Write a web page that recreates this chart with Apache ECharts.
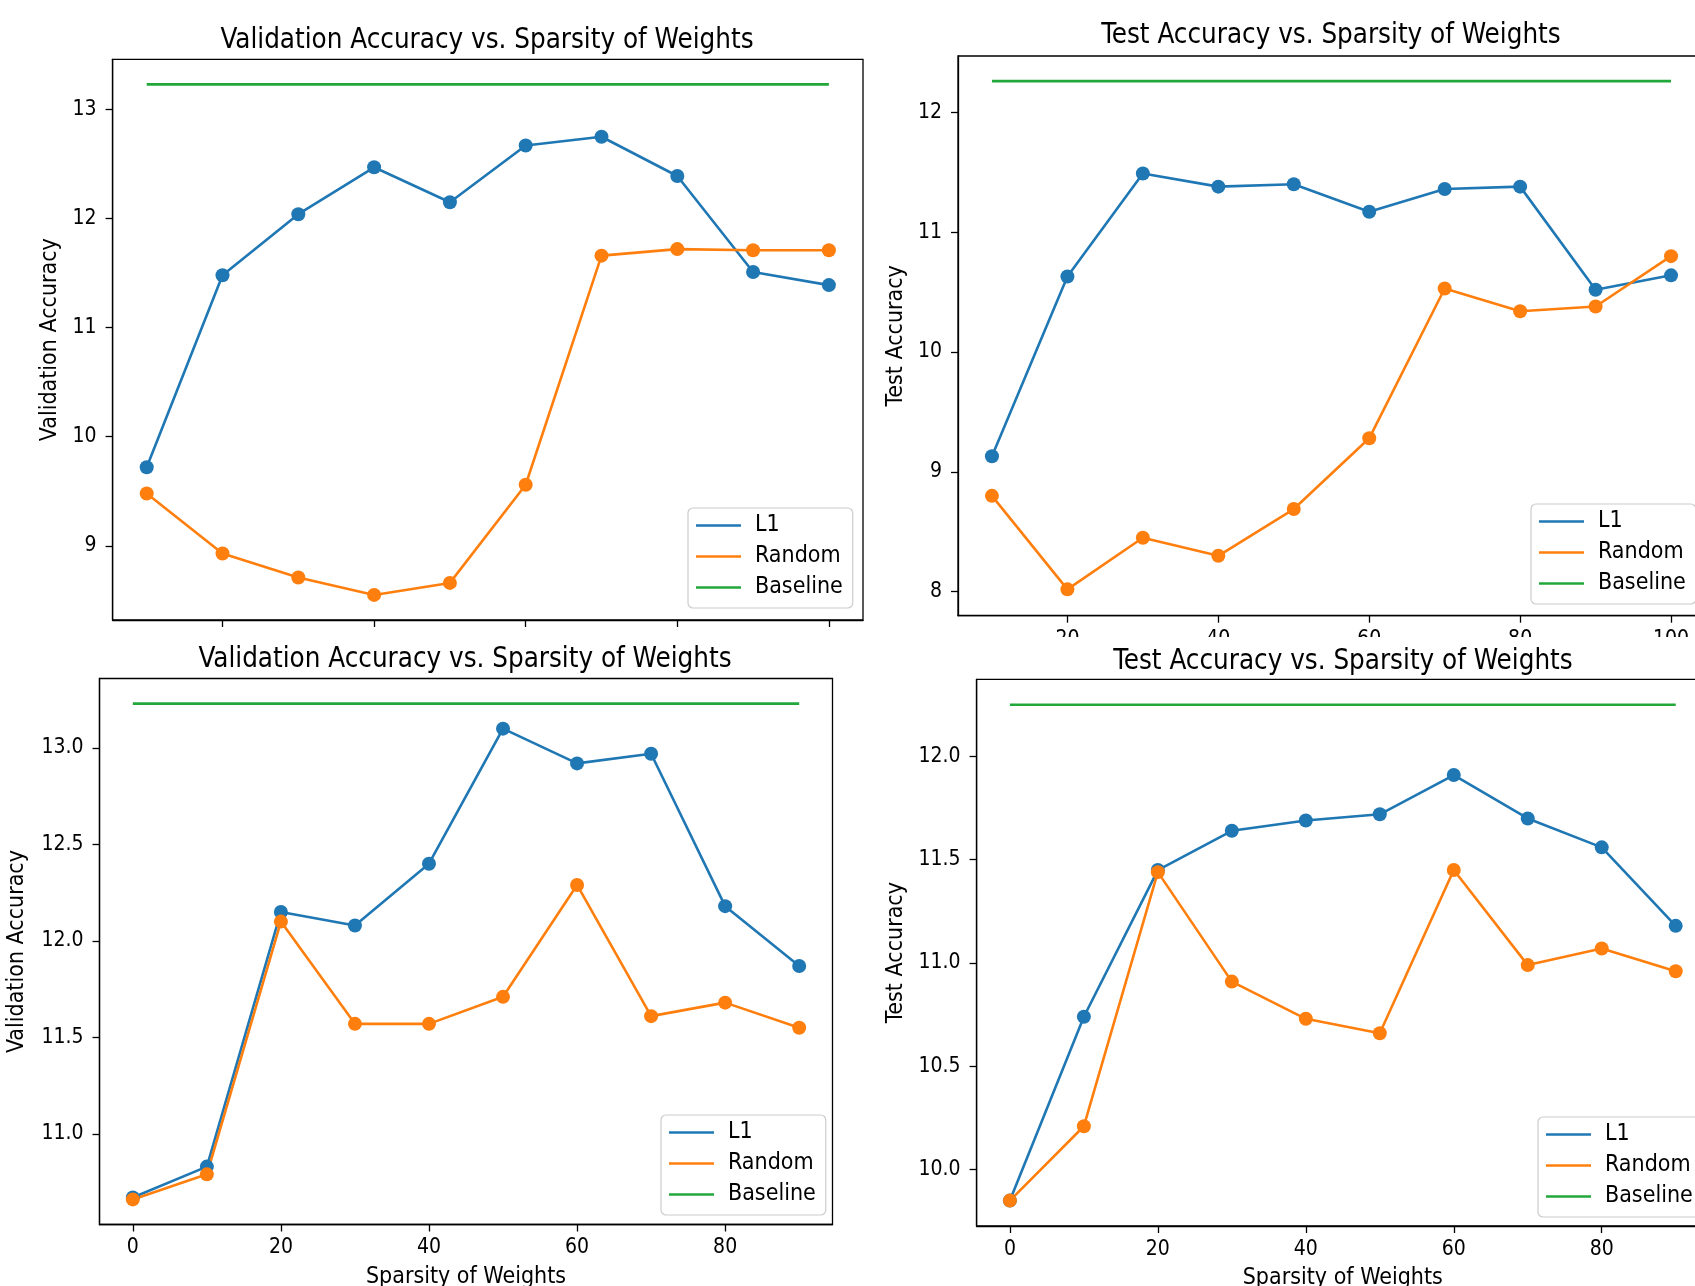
<!DOCTYPE html>
<html><head><meta charset="utf-8">
<script src="https://cdn.jsdelivr.net/npm/echarts@6/dist/echarts.min.js"></script>
<style>html,body{margin:0;padding:0;background:#fff}#c{width:1695px;height:1286px}</style>
</head><body><div id="c"></div>
<script>
// ---------- data ----------
const sparsityTop = [10, 20, 30, 40, 50, 60, 70, 80, 90, 100];
const sparsityBottom = [0, 10, 20, 30, 40, 50, 60, 70, 80, 90];

const valL1Top = [9.72, 11.48, 12.04, 12.47, 12.15, 12.67, 12.75, 12.39, 11.51, 11.39];
const valRandomTop = [9.48, 8.93, 8.71, 8.55, 8.66, 9.56, 11.66, 11.72, 11.71, 11.71];
const valBaselineTop = 13.23;

const testL1Top = [9.13, 10.63, 11.49, 11.38, 11.40, 11.17, 11.36, 11.38, 10.52, 10.64];
const testRandomTop = [8.80, 8.02, 8.45, 8.30, 8.69, 9.28, 10.53, 10.34, 10.38, 10.80];
const testBaselineTop = 12.26;

const valL1Bottom = [10.67, 10.83, 12.15, 12.08, 12.40, 13.10, 12.92, 12.97, 12.18, 11.87];
const valRandomBottom = [10.66, 10.79, 12.10, 11.57, 11.57, 11.71, 12.29, 11.61, 11.68, 11.55];
const valBaselineBottom = 13.23;

const testL1Bottom = [9.85, 10.74, 11.45, 11.64, 11.69, 11.72, 11.91, 11.70, 11.56, 11.18];
const testRandomBottom = [9.85, 10.21, 11.44, 10.91, 10.73, 10.66, 11.45, 10.99, 11.07, 10.96];
const testBaselineBottom = 12.25;

const xTicksTop = [20, 40, 60, 80, 100];
const xTickLabelsTop = ['20', '40', '60', '80', '100'];
const xTicksBottom = [0, 20, 40, 60, 80];
const xTickLabelsBottom = ['0', '20', '40', '60', '80'];
const yTicksValTop = [9, 10, 11, 12, 13];
const yTickLabelsValTop = ['9', '10', '11', '12', '13'];
const yTicksTestTop = [8, 9, 10, 11, 12];
const yTickLabelsTestTop = ['8', '9', '10', '11', '12'];
const yTicksValBottom = [11.0, 11.5, 12.0, 12.5, 13.0];
const yTickLabelsValBottom = ['11.0', '11.5', '12.0', '12.5', '13.0'];
const yTicksTestBottom = [10.0, 10.5, 11.0, 11.5, 12.0];
const yTickLabelsTestBottom = ['10.0', '10.5', '11.0', '11.5', '12.0'];

const seriesNames = ['L1', 'Random', 'Baseline'];
const titleVal = 'Validation Accuracy vs. Sparsity of Weights';
const titleTest = 'Test Accuracy vs. Sparsity of Weights';
const yNameVal = 'Validation Accuracy';
const yNameTest = 'Test Accuracy';
const xName = 'Sparsity of Weights';

// ---------- styling / layout ----------
const FONT = "'DejaVu Sans Condensed', 'DejaVu Sans', sans-serif";
const COLORS = ['#1f77b4', '#ff7f0e', '#22a83a'];

const panels = [
  { x: sparsityTop, l1: valL1Top, rnd: valRandomTop, base: valBaselineTop,
    grid: { left: 112.6, top: 59.3, width: 750.4, height: 560.7 },
    xMin: 5.5, xMax: 104.5, yMin: 8.32, yMax: 13.46,
    xTicks: xTicksTop, xLabels: xTickLabelsTop, showXLabels: false,
    yTicks: yTicksValTop, yLabels: yTickLabelsValTop,
    title: titleVal, titleX: 487, titleY: 38, yName: yNameVal, yGap: 51, xName: '',
    legend: { left: 688, top: 508 } },
  { x: sparsityTop, l1: testL1Top, rnd: testRandomTop, base: testBaselineTop,
    grid: { left: 958, top: 56, width: 747, height: 559.7 },
    xMin: 5.5, xMax: 104.5, yMin: 7.80, yMax: 12.47,
    xTicks: xTicksTop, xLabels: xTickLabelsTop, showXLabels: true,
    yTicks: yTicksTestTop, yLabels: yTickLabelsTestTop,
    title: titleTest, titleX: 1331, titleY: 33, yName: yNameTest, yGap: 50.5, xName: '',
    legend: { left: 1531, top: 504 } },
  { x: sparsityBottom, l1: valL1Bottom, rnd: valRandomBottom, base: valBaselineBottom,
    grid: { left: 99.5, top: 678.5, width: 733, height: 546 },
    xMin: -4.5, xMax: 94.5, yMin: 10.53, yMax: 13.36,
    xTicks: xTicksBottom, xLabels: xTickLabelsBottom, showXLabels: true,
    yTicks: yTicksValBottom, yLabels: yTickLabelsValBottom,
    title: titleVal, titleX: 465, titleY: 657, yName: yNameVal, yGap: 71, xName: xName,
    legend: { left: 661, top: 1115 } },
  { x: sparsityBottom, l1: testL1Bottom, rnd: testRandomBottom, base: testBaselineBottom,
    grid: { left: 976.6, top: 679.4, width: 732.4, height: 546.6 },
    xMin: -4.5, xMax: 94.5, yMin: 9.727, yMax: 12.373,
    xTicks: xTicksBottom, xLabels: xTickLabelsBottom, showXLabels: true,
    yTicks: yTicksTestBottom, yLabels: yTickLabelsTestBottom,
    title: titleTest, titleX: 1343, titleY: 658.5, yName: yNameTest, yGap: 69, xName: xName,
    legend: { left: 1538, top: 1117 } }
];

const option = {
  animation: false,
  backgroundColor: '#fff',
  textStyle: { fontFamily: FONT, color: '#000' },
  title: [], grid: [], xAxis: [], yAxis: [], legend: [], series: [],
  graphic: [
    { type: 'rect', z: 100, left: 930, top: 637, shape: { width: 770, height: 9 }, style: { fill: '#fff' } }
  ]
};

panels.forEach((p, i) => {
  option.title.push({
    text: p.title, left: p.titleX, top: p.titleY - 11, textAlign: 'center', padding: 0,
    textStyle: { fontFamily: FONT, fontSize: 27.5, fontWeight: 'normal', color: '#000' }
  });
  option.grid.push(Object.assign({
    show: true, borderColor: '#000', borderWidth: 1.3, backgroundColor: 'transparent',
    containLabel: false, outerBoundsMode: 'none'
  }, p.grid));
  option.xAxis.push({
    type: 'value', gridIndex: i, min: p.xMin, max: p.xMax,
    name: p.xName, nameLocation: 'middle', nameGap: 41,
    nameTextStyle: { fontFamily: FONT, fontSize: 23, color: '#000' },
    axisLine: { show: true, onZero: false, lineStyle: { color: '#000', width: 1.3 } },
    axisTick: { show: true, inside: false, length: 7, customValues: p.xTicks, lineStyle: { color: '#000', width: 1.3 } },
    axisLabel: { show: p.showXLabels, margin: 13, customValues: p.xTicks,
      formatter: v => p.xLabels[p.xTicks.indexOf(v)],
      fontFamily: FONT, fontSize: 21, color: '#000' },
    splitLine: { show: false }
  });
  option.yAxis.push({
    type: 'value', gridIndex: i, min: p.yMin, max: p.yMax,
    name: p.yName, nameLocation: 'middle', nameGap: p.yGap, nameRotate: 90,
    nameTextStyle: { fontFamily: FONT, fontSize: 23, color: '#000' },
    axisLine: { show: true, onZero: false, lineStyle: { color: '#000', width: 1.3 } },
    axisTick: { show: true, inside: false, length: 7, customValues: p.yTicks, lineStyle: { color: '#000', width: 1.3 } },
    axisLabel: { show: true, margin: 16, customValues: p.yTicks,
      formatter: v => p.yLabels[p.yTicks.indexOf(v)],
      fontFamily: FONT, fontSize: 21, color: '#000' },
    splitLine: { show: false }
  });
  option.legend.push({
    left: p.legend.left, top: p.legend.top, orient: 'vertical',
    data: seriesNames, icon: 'rect', itemWidth: 45, itemHeight: 2.5, itemGap: 8,
    padding: [6, 10, 9, 8],
    backgroundColor: 'rgba(255,255,255,0.85)', borderColor: '#cccccc', borderWidth: 1.2, borderRadius: 5,
    textStyle: { fontFamily: FONT, fontSize: 23, color: '#000', padding: [0, 0, 0, 9] },
    selectedMode: false
  });
  const lineSeries = (name, ys, color) => ({
    name, type: 'line', xAxisIndex: i, yAxisIndex: i,
    data: p.x.map((xv, k) => [xv, ys[k]]),
    symbol: 'circle', symbolSize: 14, showSymbol: true,
    itemStyle: { color }, lineStyle: { color, width: 2.6 }, z: 3
  });
  option.series.push(lineSeries(seriesNames[0], p.l1, COLORS[0]));
  option.series.push(lineSeries(seriesNames[1], p.rnd, COLORS[1]));
  option.series.push({
    name: seriesNames[2], type: 'line', xAxisIndex: i, yAxisIndex: i,
    data: [[p.x[0], p.base], [p.x[p.x.length - 1], p.base]],
    symbol: 'none', showSymbol: false,
    itemStyle: { color: COLORS[2] }, lineStyle: { color: COLORS[2], width: 2.6 }, z: 3
  });
});

const chart = echarts.init(document.getElementById('c'), null, { renderer: 'canvas' });
chart.setOption(option);
</script>
</body></html>
